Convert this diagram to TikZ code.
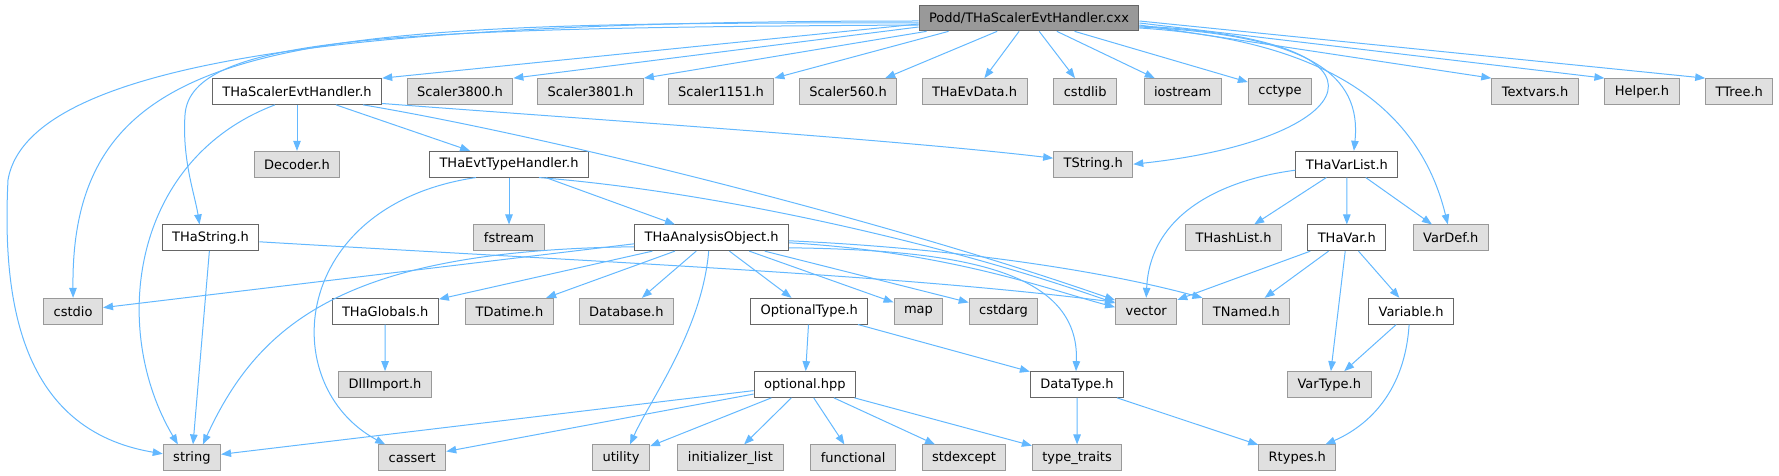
\documentclass[tikz,border=0pt]{standalone}
\usepackage{fontspec}
\setmainfont{DejaVu Sans}
\usepackage{tikz}
\usetikzlibrary{arrows.meta}
\definecolor{edgeblue}{HTML}{63B8FF}
\definecolor{docline}{HTML}{666666}
\definecolor{extline}{HTML}{999999}
\definecolor{extfill}{HTML}{E0E0E0}
\definecolor{rootfill}{HTML}{999999}

\begin{document}
\begin{tikzpicture}[
  x=1pt, y=-1pt,
  hbox/.style={draw=docline, fill=white, line width=1pt, minimum height=25.7pt,
               inner xsep=10pt, inner ysep=0pt, font=\fontsize{13}{15}\selectfont},
  gbox/.style={hbox, draw=extline, fill=extfill},
  rootbox/.style={hbox, fill=rootfill},
  incl/.style={draw=edgeblue, line width=1pt, -{Triangle[length=10pt,width=7.5pt]}}
]
  \useasboundingbox (0,0) rectangle (1779,476);

  \node[rootbox] (root) at (1029,18) {Podd/THaScalerEvtHandler.cxx};

  \node[hbox] (sevh)     at (297,91.5)    {THaScalerEvtHandler.h};
  \node[gbox] (s3800)    at (460,91.5)    {Scaler3800.h};
  \node[gbox] (s3801)    at (590.5,91.5)  {Scaler3801.h};
  \node[gbox] (s1151)    at (721,91.5)    {Scaler1151.h};
  \node[gbox] (s560)     at (848,91.5)    {Scaler560.h};
  \node[gbox] (evdata)   at (974.5,91.5)  {THaEvData.h};
  \node[gbox] (cstdlib)  at (1085.2,91.5) {cstdlib};
  \node[gbox] (iostream) at (1182.6,91.5) {iostream};
  \node[gbox] (cctype)   at (1280,91.5)   {cctype};
  \node[gbox] (textvars) at (1535,91.5)   {Textvars.h};
  \node[gbox] (helper)   at (1642,91.5)   {Helper.h};
  \node[gbox] (ttree)    at (1739.3,91.5) {TTree.h};

  \node[gbox] (decoder)  at (297,164.2)    {Decoder.h};
  \node[hbox] (evth)     at (509,164.2)    {THaEvtTypeHandler.h};
  \node[gbox] (tstring)  at (1093.2,164.2) {TString.h};
  \node[hbox] (varlist)  at (1346.9,164.2) {THaVarList.h};

  \node[hbox] (hastr)    at (210.5,237.8)  {THaString.h};
  \node[gbox] (fstream)  at (509,237.8)    {fstream};
  \node[hbox] (anaobj)   at (711.7,237.8)  {THaAnalysisObject.h};
  \node[gbox] (hashlist) at (1233.6,237.8) {THashList.h};
  \node[hbox] (havar)    at (1346.8,237.8) {THaVar.h};
  \node[gbox] (vardef)   at (1450.8,237.8) {VarDef.h};

  \node[gbox] (cstdio)   at (73.1,311.2)   {cstdio};
  \node[hbox] (globals)  at (385.2,311.2)  {THaGlobals.h};
  \node[gbox] (datime)   at (509.4,311.2)  {TDatime.h};
  \node[gbox] (database) at (626.4,311.2)  {Database.h};
  \node[hbox] (opttype)  at (809.3,311.2)  {OptionalType.h};
  \node[gbox] (map)      at (918.5,311.2)  {map};
  \node[gbox] (cstdarg)  at (1003.5,311.2) {cstdarg};
  \node[gbox] (vector)   at (1146.2,311.2) {vector};
  \node[gbox] (tnamed)   at (1246.4,311.2) {TNamed.h};
  \node[hbox] (variable) at (1411.1,311.2) {Variable.h};

  \node[gbox] (dllimport) at (385,384.5)   {DllImport.h};
  \node[hbox] (optional)  at (804.9,384.5) {optional.hpp};
  \node[hbox] (datatype)  at (1077,384.5)  {DataType.h};
  \node[gbox] (vartype)   at (1329.3,384.5) {VarType.h};

  \node[gbox] (string)     at (191.9,457.8)  {string};
  \node[gbox] (cassert)    at (412.2,457.8)  {cassert};
  \node[gbox] (utility)    at (621,457.8)    {utility};
  \node[gbox] (initlist)   at (730.5,457.8)  {initializer\_list};
  \node[gbox] (functional) at (853.2,457.8)  {functional};
  \node[gbox] (stdexcept)  at (964,457.8)    {stdexcept};
  \node[gbox] (typetraits) at (1077.1,457.8) {type\_traits};
  \node[gbox] (rtypes)     at (1297.3,457.8) {Rtypes.h};

  % includes of the source file
  \draw[incl] ([yshift=-6pt]root.west) -- (sevh.north east);
  \draw[incl] ([yshift=-9pt]root.west) -- (s3800.north east);
  \draw[incl] ([xshift=8pt]root.south west) -- (s3801.north east);
  \draw[incl] ([xshift=30pt]root.south west) -- (s1151.north east);
  \draw[incl] (root) -- ([xshift=-12pt]s560.north east);
  \draw[incl] (root) -- (evdata);
  \draw[incl] (root) -- (cstdlib);
  \draw[incl] (root) -- (iostream);
  \draw[incl] (root) -- (cctype);
  \draw[incl] ([yshift=-7pt]root.east) -- (textvars.north west);
  \draw[incl] ([yshift=-5pt]root.east) -- (helper.north west);
  \draw[incl] ([yshift=-3pt]root.east) -- (ttree.north west);
  \draw[incl] ([yshift=-8pt]root.east) .. controls (1420,40) and (1360,140) .. (tstring.east);
  \draw[incl] ([yshift=-9pt]root.east) .. controls (1310,35) and (1362,75) .. ([xshift=7pt]varlist.north);
  \draw[incl] ([yshift=-10pt]root.east) .. controls (1330,40) and (1420,110) .. ([xshift=-3pt]vardef.north);
  \draw[incl] ([yshift=-3pt]root.west) .. controls (420,21) and (30,50) .. (8,180)
              .. controls (2,300) and (20,430) .. ([yshift=4pt]string.west);
  \draw[incl] ([yshift=-5pt]root.west) .. controls (300,22) and (70,30) .. (cstdio.north);
  \draw[incl] ([yshift=-7pt]root.west) .. controls (400,28) and (190,35) .. (185,115)
              .. controls (182,160) and (195,195) .. ([xshift=-11pt]hastr.north);

  \draw[incl] (sevh) -- (decoder);
  \draw[incl] (sevh) -- (evth);
  \draw[incl] ([xshift=-22pt]sevh.south) .. controls (130,160) and (110,330) .. ([xshift=-14pt]string.north);
  \draw[incl] ([yshift=-12pt]sevh.east) .. controls (600,120) and (900,140) .. ([yshift=6pt]tstring.west);
  \draw[incl] ([xshift=66pt]sevh.south) .. controls (560,138) and (900,225) .. ([yshift=11pt]vector.west);

  \draw[incl] (evth) -- (fstream);
  \draw[incl] (evth) -- (anaobj);
  \draw[incl] ([xshift=30pt]evth.south) .. controls (720,192) and (950,245) .. ([yshift=8pt]vector.west);
  \draw[incl] ([xshift=-33pt]evth.south) .. controls (290,205) and (275,385) .. ([xshift=-27pt]cassert.north);

  \draw[incl] (hastr) -- (string);
  \draw[incl] ([yshift=-4pt]hastr.east) .. controls (600,262) and (900,275) .. ([yshift=9pt]vector.west);

  \draw[incl] ([yshift=-6pt]anaobj.west) -- (cstdio);
  \draw[incl] ([yshift=-9pt]anaobj.west) .. controls (350,250) and (260,320) .. ([xshift=11pt]string.north);
  \draw[incl] (anaobj) -- (globals);
  \draw[incl] (anaobj) -- (datime);
  \draw[incl] (anaobj) -- (database);
  \draw[incl] ([xshift=-3pt]anaobj.south) .. controls (702,330) and (650,400) .. ([xshift=9pt]utility.north);
  \draw[incl] (anaobj) -- (opttype);
  \draw[incl] (anaobj) -- (map);
  \draw[incl] (anaobj) -- (cstdarg);
  \draw[incl] ([yshift=-5pt]anaobj.east) .. controls (950,252) and (1050,290) .. ([yshift=4pt]vector.west);
  \draw[incl] ([yshift=-3pt]anaobj.east) .. controls (950,248) and (1100,270) .. (tnamed.north west);
  \draw[incl] ([yshift=-10pt]anaobj.east) .. controls (960,250) and (1080,270) .. ([xshift=-1pt]datatype.north);

  \draw[incl] ([yshift=-6pt]varlist.west) .. controls (1220,180) and (1150,215) .. (vector.north);
  \draw[incl] (varlist) -- (hashlist);
  \draw[incl] (varlist) -- (havar);
  \draw[incl] (varlist) -- (vardef);

  \draw[incl] (havar) -- (vector);
  \draw[incl] (havar) -- (tnamed);
  \draw[incl] (havar) -- (vartype);
  \draw[incl] (havar) -- (variable);

  \draw[incl] (variable) -- (vartype);
  \draw[incl] ([xshift=-2pt]variable.south) .. controls (1405,390) and (1370,425) .. ([xshift=28pt]rtypes.north);

  \draw[incl] (globals) -- (dllimport);

  \draw[incl] (opttype) -- (optional);
  \draw[incl] (opttype) -- (datatype);

  \draw[incl] (optional) -- (string);
  \draw[incl] (optional) -- (cassert);
  \draw[incl] (optional) -- (utility);
  \draw[incl] (optional) -- (initlist);
  \draw[incl] (optional) -- (functional);
  \draw[incl] (optional) -- (stdexcept);
  \draw[incl] (optional) -- (typetraits);

  \draw[incl] (datatype) -- (typetraits);
  \draw[incl] (datatype) -- (rtypes);
\end{tikzpicture}
\end{document}
